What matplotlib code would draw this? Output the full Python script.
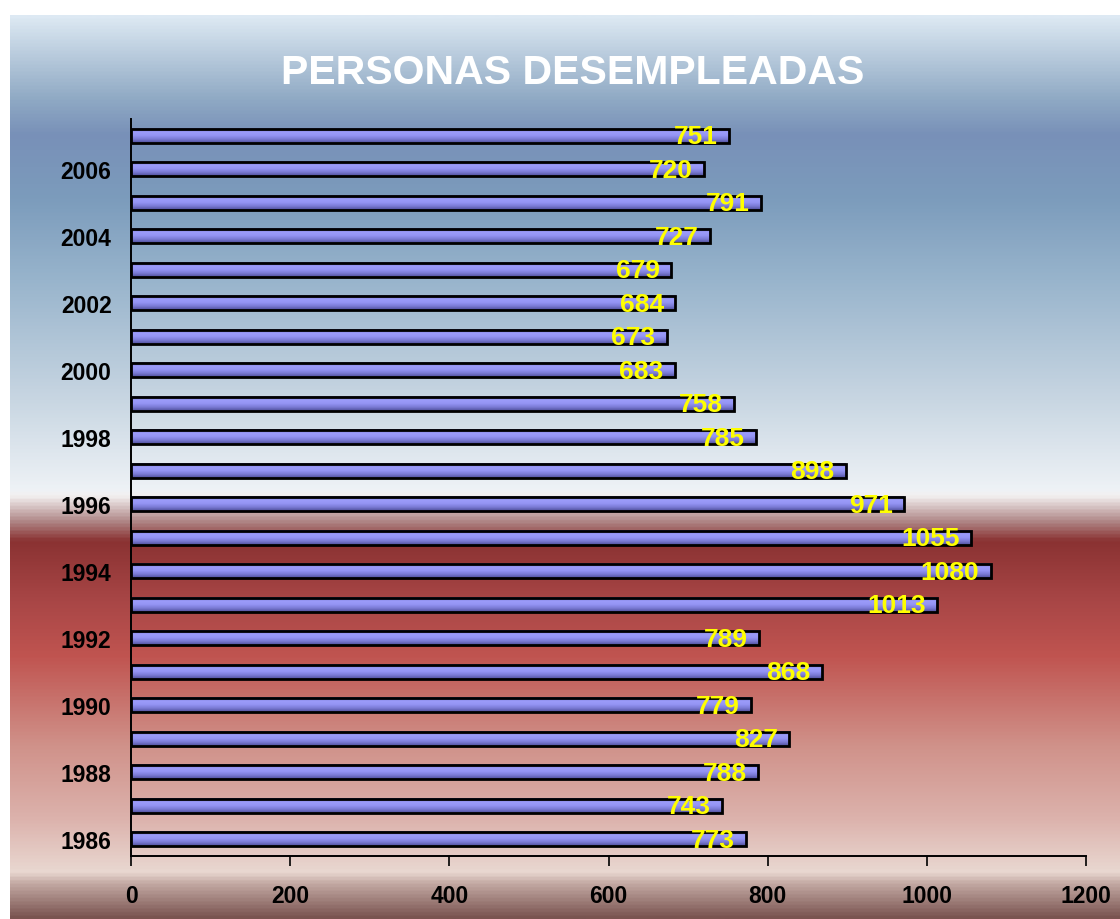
import numpy as np
import matplotlib.pyplot as plt
from matplotlib.colors import LinearSegmentedColormap

# data (bottom to top)
years = [1986, 1987, 1988, 1989, 1990, 1991, 1992, 1993, 1994, 1995, 1996,
         1997, 1998, 1999, 2000, 2001, 2002, 2003, 2004, 2005, 2006, 2007]
parados = [773, 743, 788, 827, 779, 868, 789, 1013, 1080, 1055, 971,
           898, 785, 758, 683, 673, 684, 679, 727, 791, 720, 751]
xticks = [0, 200, 400, 600, 800, 1000, 1200]
title = 'PERSONAS DESEMPLEADAS'

plt.rcParams['font.family'] = ['Liberation Sans', 'DejaVu Sans']

W, H = 1120, 920
fig = plt.figure(figsize=(W / 100, H / 100), dpi=100)
fig.patch.set_facecolor('white')

# background panel: blue sky on top, red band below
bg_stops = [
    (0.000, '#dde9f3'), (0.092, '#8fa9c4'), (0.131, '#7890b8'),
    (0.203, '#7c9cbc'), (0.292, '#98b4cc'), (0.425, '#c8d6e2'),
    (0.525, '#eef2f6'), (0.532, '#f3f0f0'), (0.560, '#b08888'),
    (0.582, '#8a3232'), (0.648, '#a84646'), (0.710, '#c05450'),
    (0.810, '#d0928a'), (0.890, '#dcb2ac'), (0.950, '#e9d8d1'),
    (0.962, '#c4aaa4'), (1.000, '#7a5450'),
]
bg_cmap = LinearSegmentedColormap.from_list('bg', bg_stops)
bg = fig.add_axes([10 / W, 0, 1 - 10 / W, (H - 16) / H], zorder=-10)
bg.imshow(np.linspace(0, 1, 512).reshape(-1, 1), cmap=bg_cmap,
          aspect='auto', extent=(0, 1, 0, 1), interpolation='bilinear')
bg.axis('off')

# plot area
ax = fig.add_axes([131 / W, (H - 857) / H, (1086 - 131) / W, (857 - 120) / H])
ax.patch.set_alpha(0)

bar_cmap = LinearSegmentedColormap.from_list(
    'bar', ['#5e5eb0', '#9c9cfa', '#9494f4', '#7a7ad4', '#50509c'])
grad = np.linspace(0, 1, 32).reshape(-1, 1)
h = 0.42
ypos = np.arange(len(years))
for y, v in zip(ypos, parados):
    ax.imshow(grad, cmap=bar_cmap, aspect='auto', interpolation='bilinear',
              extent=(0, v, y - h / 2, y + h / 2), zorder=2)
ax.barh(ypos, parados, height=h, fill=False, edgecolor='black',
        linewidth=2, zorder=3)

for y, v in zip(ypos, parados):
    ax.text(v - 14, y - 0.02, str(v), ha='right', va='center', color='#ffff00',
            fontsize=19, fontweight='bold', zorder=4)

ax.set_xlim(0, 1200)
ax.set_ylim(-0.5, len(years) - 0.5)
ax.set_xticks(xticks)
ax.set_xticklabels([str(t) for t in xticks], fontsize=16.5, fontweight='bold')
ax.set_yticks(ypos)
ax.set_yticklabels([str(yr) if yr % 2 == 0 else '' for yr in years],
                   fontsize=16.5, fontweight='bold')
ax.tick_params(axis='y', length=0, pad=14)
ax.tick_params(axis='x', length=7, width=1.2, direction='out', pad=13)
for s in ['top', 'right']:
    ax.spines[s].set_visible(False)
for s in ['left', 'bottom']:
    ax.spines[s].set_linewidth(1.4)

fig.text(573 / W, 1 - 73 / H, title, ha='center', va='center', color='white',
         fontsize=29.5, fontweight='bold')

fig.savefig('out.png', dpi=100)
